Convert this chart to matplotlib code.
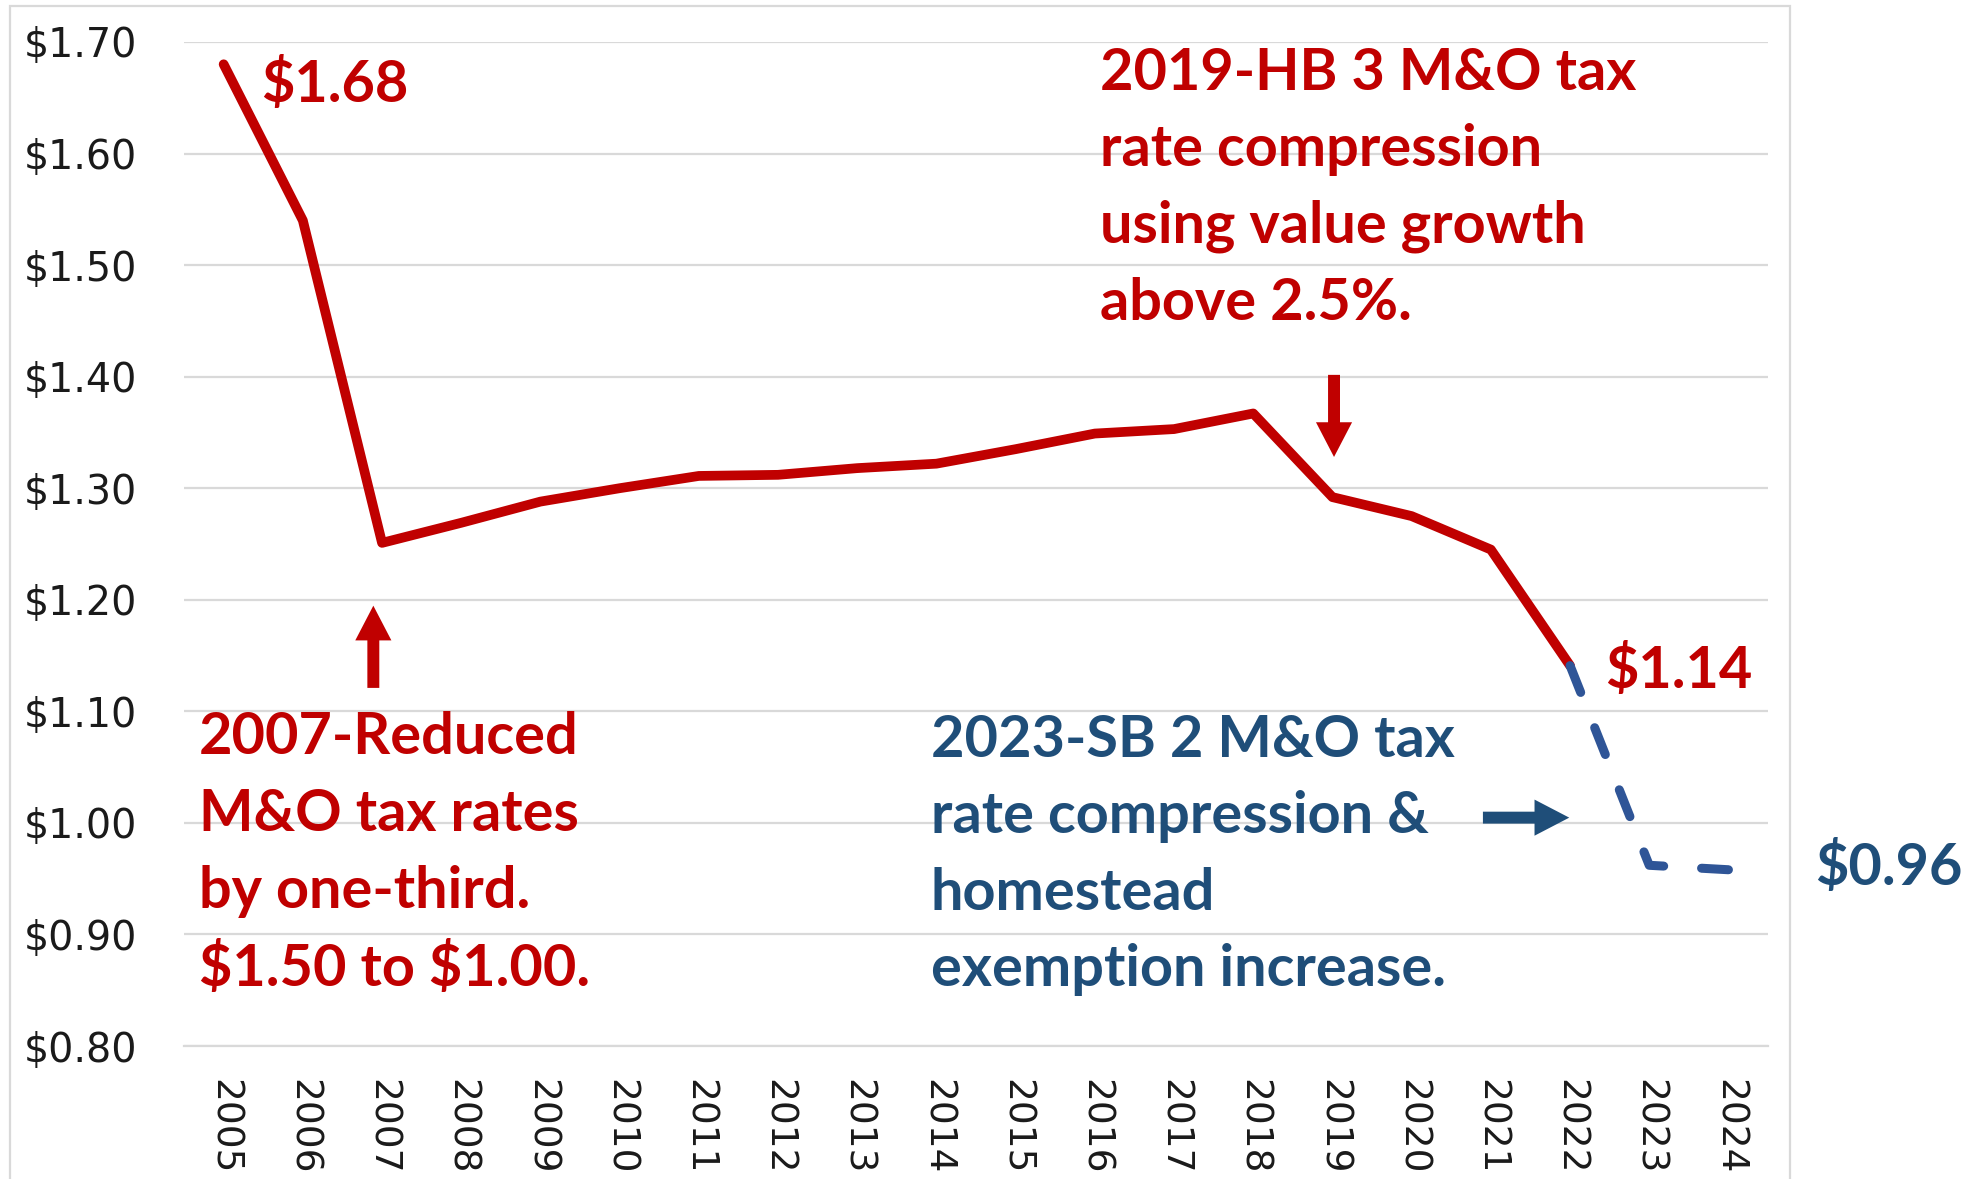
import numpy as np
import matplotlib
matplotlib.use('Agg')
import matplotlib.pyplot as plt
from matplotlib.patches import Rectangle

# ── Data ─────────────────────────────────────────────────────────────────────
YEARS = [str(y) for y in range(2005, 2025)]
RATE_ACTUAL = [1.680, 1.540, 1.251, 1.269, 1.288, 1.300, 1.311, 1.312, 1.318, 1.322,
               1.335, 1.349, 1.353, 1.367, 1.292, 1.275, 1.245, 1.141, np.nan, np.nan]
RATE_SB2 = [np.nan] * 17 + [1.141, 0.962, 0.958]
Y_TICKS = [0.80, 0.90, 1.00, 1.10, 1.20, 1.30, 1.40, 1.50, 1.60, 1.70]

RED = '#C00000'
BLUE_LINE = '#2F5597'
BLUE_TEXT = '#1F4E79'
GRID = '#D9D9D9'
NOTE_FONT = dict(family='Lato', fontweight='bold', fontsize=41.5)

fig = plt.figure(figsize=(19.79, 11.79), dpi=100)
ax = fig.add_axes([0.093, 0.1128, 0.8004, 0.8516])

x = np.arange(len(YEARS))
ax.plot(x, RATE_ACTUAL, color=RED, lw=7, solid_capstyle='round', solid_joinstyle='round', zorder=3)
ax.plot(x, RATE_SB2, color=BLUE_LINE, lw=6.5, linestyle=(0, (3.2, 4.2)),
        dash_capstyle='round', dash_joinstyle='round', zorder=4)

ax.set_xlim(-0.5, len(YEARS) - 0.5)
ax.set_ylim(0.80, 1.70)
ax.set_yticks(Y_TICKS)
ax.set_yticklabels([f'${v:.2f}' for v in Y_TICKS], family='DejaVu Sans', fontsize=28.5, color='#1a1a1a')
ax.set_xticks(x)
ax.set_xticklabels(YEARS, rotation=270, family='DejaVu Sans', fontsize=27, color='#1a1a1a')
ax.tick_params(axis='y', length=0, pad=34)
ax.tick_params(axis='x', length=0, pad=24)
ax.yaxis.grid(True, color=GRID, lw=1.6)
ax.set_axisbelow(True)
for s in ax.spines.values():
    s.set_visible(False)
ax.spines['bottom'].set_visible(True)
ax.spines['bottom'].set_color(GRID)
ax.spines['bottom'].set_linewidth(1.6)

# ── Annotations ──────────────────────────────────────────────────────────────
def note(lines, x0, y0, dy, color):
    for i, t in enumerate(lines):
        ax.text(x0, y0 - i * dy, t, color=color, ha='left', va='center',
                clip_on=False, parse_math=False, **NOTE_FONT)

note(['$1.68'], 0.47, 1.661, 0, RED)
note(['2019-HB 3 M&O tax', 'rate compression', 'using value growth', 'above 2.5%.'],
     11.07, 1.672, 0.0687, RED)
note(['2007-Reduced', 'M&O tax rates', 'by one-third.', '$1.50 to $1.00.'],
     -0.31, 1.0764, 0.0690, RED)
note(['2023-SB 2 M&O tax', 'rate compression &', 'homestead', 'exemption increase.'],
     8.93, 1.0737, 0.0684, BLUE_TEXT)
note(['$1.14'], 17.44, 1.1364, 0, RED)
note(['$0.96'], 20.09, 0.960, 0, BLUE_TEXT)

arrow = dict(arrowstyle='simple,tail_width=0.86,head_width=2.6,head_length=2.5',
             mutation_scale=10, lw=0, shrinkA=0, shrinkB=0)
ax.annotate('', xy=(14.02, 1.328), xytext=(14.02, 1.4016),
            arrowprops=dict(color=RED, **arrow), annotation_clip=False)
ax.annotate('', xy=(1.89, 1.1947), xytext=(1.89, 1.121),
            arrowprops=dict(color=RED, **arrow), annotation_clip=False)
ax.annotate('', xy=(16.99, 1.0047), xytext=(15.9, 1.0047),
            arrowprops=dict(color=BLUE_TEXT, **arrow), annotation_clip=False)

# chart frame
fig.add_artist(Rectangle((10 / 1979, -0.02), 1780 / 1979, 1.02 - 6 / 1179,
                         transform=fig.transFigure, fill=False, ec=GRID, lw=1.6))

fig.savefig('out.png', dpi=100)
